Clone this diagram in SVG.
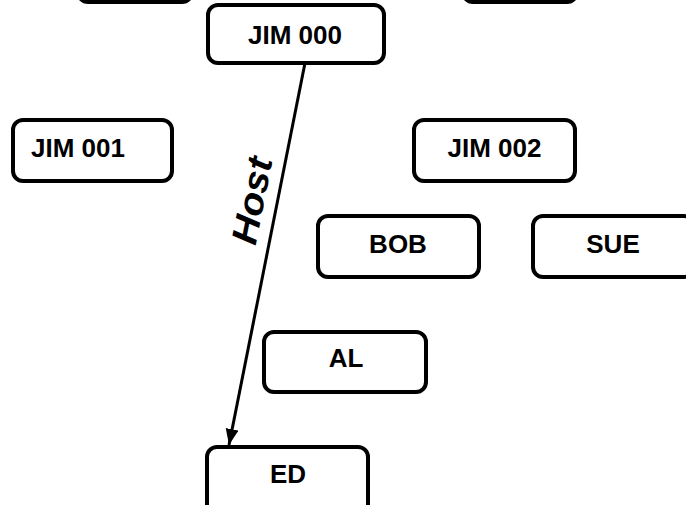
<svg xmlns="http://www.w3.org/2000/svg" width="686" height="505" viewBox="0 0 686 505">
<style>
.box{fill:#fff;stroke:#000;stroke-width:4}
.lbl{font-family:"Liberation Sans",Arial,sans-serif;font-weight:bold;font-size:26px;fill:#000;text-anchor:middle}
.edge{stroke:#000;stroke-width:3;fill:none}
.elbl{font-family:"Liberation Sans",Arial,sans-serif;font-weight:bold;font-style:italic;font-size:36px;fill:#000;text-anchor:middle}
</style>
<defs>
<marker id="arr" markerUnits="userSpaceOnUse" markerWidth="20" markerHeight="14" refX="16" refY="6.5" orient="auto">
<path d="M0,0 L16,6.5 L0,13 Z" fill="#000"/>
</marker>
</defs>
<rect width="686" height="505" fill="#fff"/>
<g id="top-left"><rect class="box" x="78" y="-60" width="114" height="62" rx="10"/></g>
<g id="top-right"><rect class="box" x="463" y="-60" width="114" height="62" rx="10"/></g>
<g id="jim000"><rect class="box" x="208" y="5" width="176" height="58" rx="10"/><text class="lbl" x="295" y="44" textLength="94" lengthAdjust="spacingAndGlyphs">JIM 000</text></g>
<g id="jim001"><rect class="box" x="13" y="120" width="159" height="61" rx="10"/><text class="lbl" x="31" y="157" style="text-anchor:start">JIM 001</text></g>
<g id="jim002"><rect class="box" x="414" y="120" width="161" height="61" rx="10"/><text class="lbl" x="494.5" y="157">JIM 002</text></g>
<g id="bob"><rect class="box" x="318" y="216" width="161" height="61" rx="10"/><text class="lbl" x="398" y="253">BOB</text></g>
<g id="sue"><rect class="box" x="533" y="216" width="161" height="61" rx="10"/><text class="lbl" x="613" y="253">SUE</text></g>
<g id="al"><rect class="box" x="264" y="332" width="162" height="60" rx="10"/><text class="lbl" x="346" y="367">AL</text></g>
<g id="ed"><rect class="box" x="207" y="447" width="161" height="70" rx="10"/><text class="lbl" x="288" y="483">ED</text></g>
<g id="connectors">
<path class="edge" d="M305,63 L229,445" marker-end="url(#arr)"/>
<text class="elbl" transform="translate(264,203) rotate(-78.7)" textLength="88" lengthAdjust="spacingAndGlyphs">Host</text>
</g>
</svg>
